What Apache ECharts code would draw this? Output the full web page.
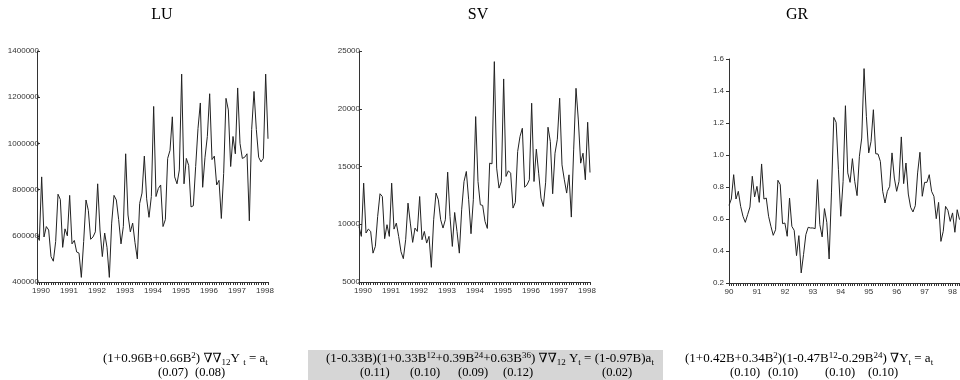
<!DOCTYPE html>
<html>
<head>
<meta charset="utf-8">
<script src="https://cdn.jsdelivr.net/npm/echarts@6/dist/echarts.min.js"></script>
<style>
    html, body { margin: 0; padding: 0; background: #fff; }
    #chart { width: 960px; height: 380px; }
</style>
</head>
<body>
<div id="chart"></div>
<script>
// monthly series, Jan 1990 - Apr 1998
var years = ['1990', '1991', '1992', '1993', '1994', '1995', '1996', '1997', '1998'];
var monthsInLastYear = 4;

var lu = [602000, 580000, 855000, 595000, 640000, 625000, 510000, 490000, 575000, 780000,
    757000, 550000, 630000, 600000, 775000, 565000, 580000, 530000, 525000, 420000,
    575000, 755000, 710000, 585000, 595000, 617000, 825000, 625000, 510000, 612000,
    550000, 420000, 655000, 775000, 755000, 670000, 565000, 640000, 955000, 690000,
    617000, 655000, 570000, 500000, 740000, 785000, 945000, 760000, 680000, 770000,
    1160000, 770000, 805000, 820000, 640000, 670000, 935000, 970000, 1115000, 855000,
    825000, 885000, 1300000, 825000, 935000, 905000, 725000, 730000, 900000, 1065000,
    1175000, 810000, 940000, 1030000, 1215000, 930000, 945000, 820000, 840000, 675000,
    870000, 1195000, 1145000, 900000, 1030000, 955000, 1240000, 1000000, 935000, 940000,
    955000, 665000, 1060000, 1225000, 1060000, 940000, 920000, 935000, 1300000, 1020000];

var sv = [9800, 8950, 13560, 9240, 9580, 9380, 7500, 8080, 10680, 12640,
    12400, 8750, 9960, 8950, 13560, 9580, 10100, 8950, 7620, 7020,
    8660, 11830, 10100, 8430, 9670, 9380, 12400, 8660, 9380, 8370,
    8950, 6270, 10390, 12700, 12120, 10390, 9670, 10390, 14510, 10680,
    8080, 11020, 9380, 7500, 11250, 13700, 14570, 12120, 9180, 12120,
    19320, 13700, 11690, 11630, 10250, 9640, 15290, 15230, 24080, 14860,
    13130, 13700, 22580, 14140, 14630, 14420, 11400, 11890, 16300, 17600,
    18310, 13210, 13410, 13850, 20480, 13700, 16500, 14420, 12260, 11540,
    13640, 18400, 17160, 12640, 16150, 17360, 20910, 15140, 13850, 12700,
    14280, 10620, 16440, 21770, 19030, 15290, 16150, 13850, 18830, 14480];

var gr = [0.685, 0.725, 0.877, 0.725, 0.773, 0.679, 0.617, 0.579, 0.627, 0.675,
    0.867, 0.738, 0.804, 0.704, 0.944, 0.725, 0.731, 0.617, 0.554, 0.498,
    0.533, 0.842, 0.815, 0.571, 0.575, 0.492, 0.731, 0.554, 0.529, 0.371,
    0.496, 0.263, 0.377, 0.502, 0.548, 0.544, 0.544, 0.540, 0.846, 0.565,
    0.488, 0.665, 0.579, 0.350, 0.763, 1.235, 1.204, 0.908, 0.617, 0.835,
    1.308, 0.888, 0.829, 0.977, 0.835, 0.746, 0.992, 1.106, 1.540, 1.242,
    1.013, 1.085, 1.283, 1.008, 1.006, 0.960, 0.773, 0.700, 0.773, 0.804,
    1.013, 0.856, 0.773, 0.835, 1.113, 0.821, 0.950, 0.756, 0.673, 0.644,
    0.683, 0.888, 1.017, 0.742, 0.829, 0.829, 0.877, 0.773, 0.742, 0.602,
    0.704, 0.460, 0.523, 0.679, 0.654, 0.585, 0.638, 0.517, 0.658, 0.596];

var titles = ['LU', 'SV', 'GR'];

// model equations (rich text) and standard errors under each coefficient
var eqLU = '(1+0.96B+0.66B{sup|2}) \u2207\u2207{sub|12}Y {sub|t} = a{sub|t}';
var seLU = ['(0.07)', '(0.08)'];
var eqSV = '(1-0.33B)(1+0.33B{sup|12}+0.39B{sup|24}+0.63B{sup|36}) \u2207\u2207{sub|12} Y{sub|t} = (1-0.97B)a{sub|t}';
var seSV = ['(0.11)', '(0.10)', '(0.09)', '(0.12)', '(0.02)'];
var eqGR = '(1+0.42B+0.34B{sup|2})(1-0.47B{sup|12}-0.29B{sup|24}) \u2207Y{sub|t} = a{sub|t}';
var seGR = ['(0.10)', '(0.10)', '(0.10)', '(0.10)'];

var months = [];
for (var i = 0; i < years.length; i++) {
    var n = (i == years.length - 1) ? monthsInLastYear : 12;
    for (var m = 1; m <= n; m++) {
        months.push(years[i] + '-' + (m < 10 ? '0' + m : m));
    }
}

var serif = '"Liberation Serif", "DejaVu Serif", serif';
var sans = '"Liberation Sans", Arial, sans-serif';

function xAxis(idx, shortYear, pad) {
    return {
        type: 'category',
        gridIndex: idx,
        data: months,
        boundaryGap: false,
        axisLine: { lineStyle: { color: '#333', width: 1 } },
        axisTick: { interval: 0, length: 3, lineStyle: { color: '#333' } },
        axisLabel: {
            interval: 11,
            margin: 5,
            fontSize: 8,
            fontFamily: sans,
            color: '#333',
            padding: [0, 0, 0, pad],
            formatter: function (v) { return shortYear ? v.slice(2, 4) : v.slice(0, 4); }
        },
        splitLine: { show: false }
    };
}

function yAxis(idx, min, max, step, digits, margin, tickInside) {
    return {
        type: 'value',
        gridIndex: idx,
        min: min, max: max, interval: step,
        axisLine: { show: true, lineStyle: { color: '#333', width: 1 } },
        axisTick: { show: true, inside: tickInside, length: 3, lineStyle: { color: '#333' } },
        axisLabel: {
            margin: margin,
            fontSize: 8,
            fontFamily: sans,
            color: '#333',
            formatter: function (v) { return v.toFixed(digits); }
        },
        splitLine: { show: false }
    };
}

function lineSeries(idx, data) {
    return {
        type: 'line',
        xAxisIndex: idx,
        yAxisIndex: idx,
        data: data,
        showSymbol: false,
        lineStyle: { color: '#222', width: 1 },
        silent: true
    };
}

var richStyle = {
    sup: { fontSize: 9, fontFamily: serif, verticalAlign: 'top', lineHeight: 16 },
    sub: { fontSize: 9, fontFamily: serif, verticalAlign: 'bottom', lineHeight: 16 }
};

function eqText(x, y, text) {
    return {
        type: 'text', x: x, y: y,
        style: {
            text: text, fontSize: 13, fontFamily: serif, fill: '#000',
            lineHeight: 16, verticalAlign: 'middle', rich: richStyle
        }
    };
}

function seTexts(xs, labels, y) {
    var out = [];
    for (var i = 0; i < labels.length; i++) {
        out.push({
            type: 'text', x: xs[i], y: y,
            style: { text: labels[i], fontSize: 12.5, fontFamily: serif, fill: '#000', verticalAlign: 'middle' }
        });
    }
    return out;
}

function titleText(x, text) {
    return {
        type: 'text', x: x, y: 15,
        style: { text: text, fontSize: 16, fontFamily: serif, fill: '#000', align: 'center', verticalAlign: 'middle' }
    };
}

var graphics = [
    titleText(162, titles[0]),
    titleText(478, titles[1]),
    titleText(797, titles[2]),
    { type: 'rect', shape: { x: 308, y: 350, width: 355, height: 30 }, style: { fill: '#d6d6d6' } },
    eqText(103, 359, eqLU),
    eqText(326, 359, eqSV),
    eqText(685, 359, eqGR)
];
graphics = graphics.concat(seTexts([158, 195], seLU, 373));
graphics = graphics.concat(seTexts([360, 410, 458, 503, 602], seSV, 373));
graphics = graphics.concat(seTexts([730, 768, 825, 868], seGR, 373));

var option = {
    animation: false,
    backgroundColor: '#fff',
    grid: [
        { left: 37, top: 51, width: 231, height: 231 },
        { left: 359, top: 51, width: 231, height: 231 },
        { left: 729, top: 59, width: 231, height: 224 }
    ],
    xAxis: [xAxis(0, false, 8), xAxis(1, false, 8), xAxis(2, true, 0)],
    yAxis: [
        yAxis(0, 400000, 1400000, 200000, 0, -2, true),
        yAxis(1, 5000, 25000, 5000, 0, -1, true),
        yAxis(2, 0.2, 1.6, 0.2, 1, 5, false)
    ],
    series: [lineSeries(0, lu), lineSeries(1, sv), lineSeries(2, gr)],
    graphic: graphics
};

var chart = echarts.init(document.getElementById('chart'));
chart.setOption(option);
</script>
</body>
</html>
